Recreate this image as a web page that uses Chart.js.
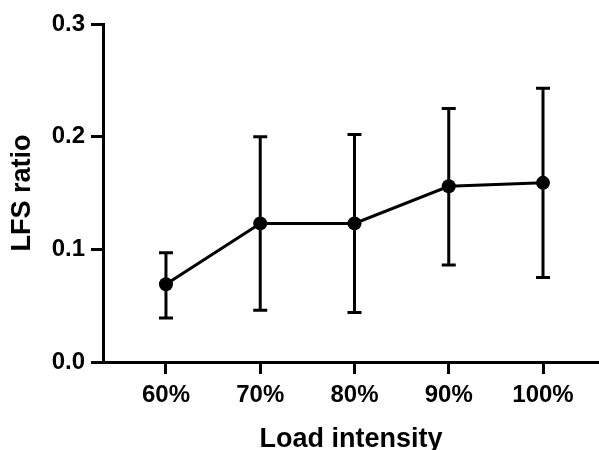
<!DOCTYPE html>
<html>
<head>
<meta charset="utf-8">
<script src="https://cdn.jsdelivr.net/npm/chart.js@4"></script>
<style>
    html, body { margin: 0; padding: 0; background: #fff; }
    #wrap { width: 599px; height: 450px; }
</style>
</head>
<body>
<div id="wrap"><canvas id="lfs-chart"></canvas></div>
<script>
// Dữ liệu
const categories = ['60%', '70%', '80%', '90%', '100%'];
const means = [0.069, 0.123, 0.123, 0.156, 0.159];
const upper = [0.097, 0.200, 0.202, 0.225, 0.243];
const lower = [0.039, 0.046, 0.044, 0.086, 0.075];
const yTicks = [0, 0.1, 0.2, 0.3];

// Vẽ thanh sai số
const errorBars = {
    id: 'errorBars',
    beforeDatasetsDraw(chart) {
        const ctx = chart.ctx;
        const xs = chart.scales.x;
        const ys = chart.scales.y;
        ctx.save();
        ctx.strokeStyle = '#000';
        ctx.lineWidth = 3;
        for (let i = 0; i < categories.length; i++) {
            const x = xs.getPixelForValue(i);
            const top = ys.getPixelForValue(upper[i]);
            const bottom = ys.getPixelForValue(lower[i]);
            ctx.beginPath();
            ctx.moveTo(x, top);
            ctx.lineTo(x, bottom);
            ctx.moveTo(x - 7, top);
            ctx.lineTo(x + 7, top);
            ctx.moveTo(x - 7, bottom);
            ctx.lineTo(x + 7, bottom);
            ctx.stroke();
        }
        ctx.restore();
    }
};

main();

function main() {
    Chart.defaults.font.family = '"Liberation Sans", Arial, sans-serif';
    Chart.defaults.color = '#000';
    lfsChart();
}

function lfsChart() {
    const ctx = document.getElementById('lfs-chart');
    new Chart(ctx, {
        type: 'line',
        data: {
            datasets: [
                {
                    label: 'LFS ratio',
                    data: means.map((m, i) => ({ x: i, y: m })),
                    borderColor: '#000',
                    backgroundColor: '#000',
                    borderWidth: 3,
                    pointRadius: 7,
                    pointBackgroundColor: '#000',
                    pointBorderWidth: 0,
                    tension: 0,
                    clip: false,
                },
            ],
        },
        options: {
            responsive: true,
            maintainAspectRatio: false,
            animation: false,
            layout: { autoPadding: false, padding: { top: 24, right: 0, left: 6, bottom: 0 } },
            plugins: {
                legend: { display: false },
                tooltip: { enabled: false },
            },
            scales: {
                x: {
                    type: 'linear',
                    min: -0.668,
                    max: 4.594,
                    afterBuildTicks: (scale) => {
                        scale.ticks = categories.map((c, i) => ({ value: i }));
                    },
                    afterFit: (scale) => {
                        scale.height = 88;
                        scale.paddingLeft = 0;
                        scale.paddingRight = 0;
                    },
                    ticks: {
                        callback: (v) => categories[v],
                        font: { size: 24, weight: 'bold' },
                        padding: 7,
                        maxRotation: 0,
                    },
                    grid: {
                        drawOnChartArea: false,
                        tickLength: 12,
                        tickWidth: 3,
                        tickColor: '#000',
                    },
                    border: { color: '#000', width: 3 },
                    title: {
                        display: true,
                        text: 'Load intensity',
                        font: { size: 27, weight: 'bold' },
                        padding: { top: 0, bottom: -6 },
                    },
                },
                y: {
                    min: 0,
                    max: 0.3,
                    afterBuildTicks: (scale) => {
                        scale.ticks = yTicks.map((v) => ({ value: v }));
                    },
                    afterFit: (scale) => {
                        scale.width = 97;
                        scale.paddingTop = 0;
                        scale.paddingBottom = 0;
                    },
                    ticks: {
                        callback: (v) => v.toFixed(1),
                        font: { size: 24, weight: 'bold' },
                        padding: 6,
                    },
                    grid: {
                        drawOnChartArea: false,
                        tickLength: 12,
                        tickWidth: 3,
                        tickColor: '#000',
                    },
                    border: { color: '#000', width: 3 },
                    title: {
                        display: true,
                        text: 'LFS ratio',
                        font: { size: 27, weight: 'bold' },
                        padding: 0,
                    },
                },
            },
        },
        plugins: [errorBars],
    });
}
</script>
</body>
</html>
